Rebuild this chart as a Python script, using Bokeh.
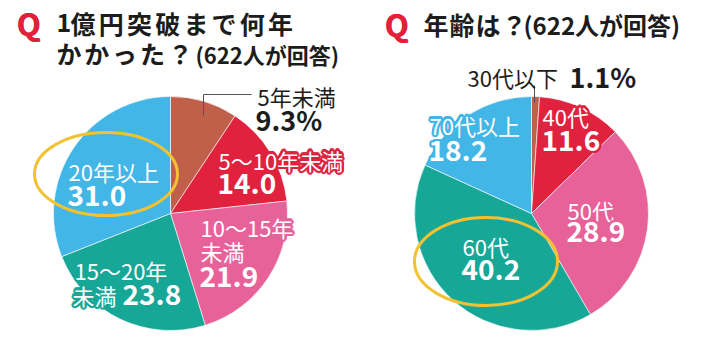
import math
from bokeh.plotting import figure
from bokeh.models import Range1d, ColumnDataSource
from bokeh.core.properties import value
from bokeh.embed import file_html
from bokeh.resources import INLINE

# ---- data ----
years_cats = ["5年未満", "5〜10年未満", "10〜15年未満", "15〜20年未満", "20年以上"]
years_vals = [9.3, 14.0, 21.9, 23.8, 31.0]
age_cats = ["30代以下", "40代", "50代", "60代", "70代以上"]
age_vals = [1.1, 11.6, 28.9, 40.2, 18.2]
colors = ["#c0604a", "#e0223e", "#e8629a", "#17a797", "#42b6e6"]
title_left = ["1億円突破まで何年", "かかった？"]
title_right = "年齢は？"
respondents = "(622人が回答)"

W, H = 691, 343
JP = value("Noto Sans CJK JP")

p = figure(width=W, height=H, output_backend="svg", toolbar_location=None,
           x_range=Range1d(0, W), y_range=Range1d(0, H), min_border=0)
p.axis.visible = False
p.grid.visible = False
p.outline_line_color = None
p.background_fill_color = "white"


def X(px):
    return px - 8


def Y(py):
    return 351 - py


def pie(cx, cy, r, vals):
    total = sum(vals)
    starts, ends, acc = [], [], 0.0
    for v in vals:
        starts.append(math.pi / 2 - 2 * math.pi * acc / total)
        acc += v
        ends.append(math.pi / 2 - 2 * math.pi * acc / total)
    src = ColumnDataSource(dict(x=[X(cx)] * len(vals), y=[Y(cy)] * len(vals),
                                s=starts, e=ends, c=colors))
    p.wedge(x="x", y="y", radius=r, start_angle="s", end_angle="e",
            direction="clock", fill_color="c", line_color="white",
            line_width=0.6, source=src)


pie(178, 221, 117, years_vals)
pie(539, 221, 117, age_vals)

OFFS = [(math.cos(a * math.pi / 8) * 2.3, math.sin(a * math.pi / 8) * 2.3) for a in range(16)]


def txt(px, py, s, size, color="white", bold=False, outline=None, font=JP):
    common = dict(text=[s], text_font=font, text_font_size=f"{size}px",
                  text_font_style="bold" if bold else "normal",
                  text_baseline="middle", text_align="left")
    if outline:
        for dx, dy in OFFS:
            p.text(x=[X(px) + dx], y=[Y(py) + dy], text_color=outline, **common)
    p.text(x=[X(px)], y=[Y(py)], text_color=color, **common)


def tracked(px, py, s, size, pitch, color="#1c1c1c"):
    x = px
    for ch in s:
        txt(x, py, ch, size, color=color, bold=True)
        x += pitch * (0.5 if ch.isascii() else 1.0)


def qmark(px, py):
    for dx in (0.0, 0.7):
        p.text(x=[X(px + dx)], y=[Y(py)], text=["Q"], text_font=JP,
               text_font_size="31px", text_font_style="bold",
               text_baseline="middle", text_color="#e3203a")


# titles
qmark(24, 30)
tracked(64, 30, title_left[0], 25, 28.2)
tracked(64, 60, title_left[1], 25, 27.8)
txt(203, 61, respondents, 22, color="#1c1c1c", bold=True)
qmark(392, 31)
tracked(431, 31, title_right, 25, 26.0)
txt(531, 32, respondents, 24, color="#1c1c1c", bold=True)

# leader lines
p.line(x=[X(259), X(211), X(211)], y=[Y(102), Y(102), Y(123)],
       line_color="#555555", line_width=1)
p.line(x=[X(542), X(542)], y=[Y(93), Y(110)], line_color="#555555", line_width=1)

# outside labels
txt(265, 103, years_cats[0], 22, color="#1c1c1c")
txt(263, 127, f"{years_vals[0]}%", 27, color="#1c1c1c", bold=True)
txt(475, 84, age_cats[0], 22, color="#1c1c1c")
txt(577, 84, f"{age_vals[0]}%", 27, color="#1c1c1c", bold=True)

# left pie labels
txt(226, 167, years_cats[1], 22, outline=colors[1])
txt(225, 191, f"{years_vals[1]:.1f}", 28, bold=True, outline=colors[1])
txt(208, 234, "10〜15年", 22, outline=colors[2])
txt(208, 258, "未満", 22, outline=colors[2])
txt(207, 284, f"{years_vals[2]:.1f}", 28, bold=True, outline=colors[2])
txt(82, 277, "15〜20年", 22, outline=colors[3])
txt(80, 302, "未満", 22, outline=colors[3])
txt(130, 302, f"{years_vals[3]:.1f}", 28, bold=True, outline=colors[3])
txt(76, 178, years_cats[4], 22, outline=colors[4])
txt(75, 203, f"{years_vals[4]:.1f}", 28, bold=True, outline=colors[4])

# right pie labels
txt(550, 123, age_cats[1], 22, outline=colors[1])
txt(549, 148, f"{age_vals[1]:.1f}", 28, bold=True, outline=colors[1])
txt(575, 217, age_cats[2], 22, outline=colors[2])
txt(574, 239, f"{age_vals[2]:.1f}", 28, bold=True, outline=colors[2])
txt(470, 253, age_cats[3], 22, outline=colors[3])
txt(469, 277, f"{age_vals[3]:.1f}", 28, bold=True, outline=colors[3])
txt(437, 132, age_cats[4], 22, outline=colors[4])
txt(436, 158, f"{age_vals[4]:.1f}", 28, bold=True, outline=colors[4])

# highlight ellipses
p.ellipse(x=[X(113.5), X(493.5)], y=[Y(181.5), Y(269)], width=[143, 143],
          height=[83, 88], fill_color=None, line_color="#f2c232", line_width=3)

open("out.html", "w").write(file_html(p, INLINE))
